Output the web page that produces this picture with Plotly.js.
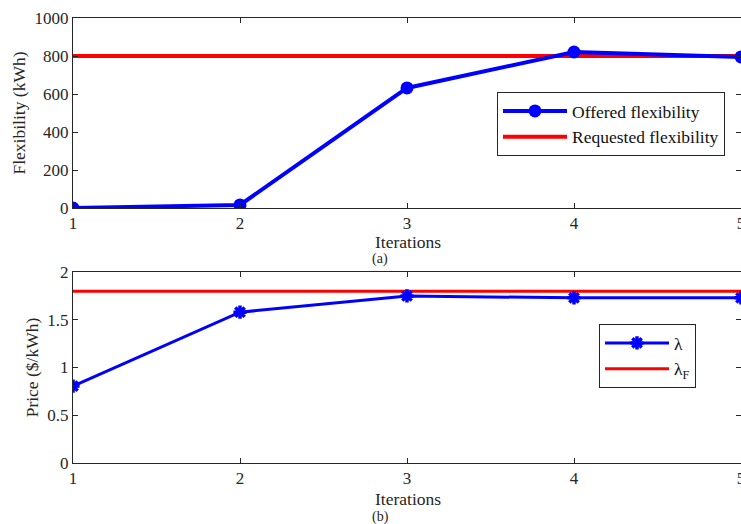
<!DOCTYPE html>
<html><head><meta charset="utf-8">
<script src="https://cdn.plot.ly/plotly-3.0.1.min.js"></script>
<style>html,body{margin:0;padding:0;overflow:hidden;background:#fff}</style>
</head><body>
<div id="chart" style="width:750px;height:524px"></div>
<script>
const iterations = [1, 2, 3, 4, 5];
const offeredFlex = [0, 16, 632, 821, 795];
const requestedFlex = [800, 800, 800, 800, 800];
const lambdaPrice = [0.806, 1.58, 1.75, 1.73, 1.73];
const lambdaF = [1.8, 1.8, 1.8, 1.8, 1.8];
const xTicks = [1, 2, 3, 4, 5];
const yTicksA = [0, 200, 400, 600, 800, 1000];
const yTicksB = [0, 0.5, 1, 1.5, 2];

const FONT = 'Liberation Serif, Times New Roman, serif';
const BLUE = '#0000ff', RED = '#ff0000';

const traces = [
  {x: iterations, y: requestedFlex, xaxis:'x', yaxis:'y', mode:'lines', name:'Requested flexibility',
   line:{color:RED, width:4}, legend:'legend', legendrank:2},
  {x: iterations, y: offeredFlex, xaxis:'x', yaxis:'y', mode:'lines+markers', name:'Offered flexibility',
   line:{color:BLUE, width:4}, marker:{symbol:'circle', size:13, color:BLUE}, legend:'legend', legendrank:1},
  {x: iterations, y: lambdaF, xaxis:'x2', yaxis:'y2', mode:'lines', name:'λ<sub>F</sub>',
   line:{color:RED, width:3}, legend:'legend2', legendrank:2},
  {x: iterations, y: lambdaPrice, xaxis:'x2', yaxis:'y2', mode:'lines+markers', name:'λ',
   line:{color:BLUE, width:3}, marker:{symbol:'asterisk-open', size:11, color:BLUE, line:{color:BLUE, width:3.5}},
   legend:'legend2', legendrank:1}
];

const axBase = {
  showline:true, linecolor:'#262626', linewidth:1, mirror:'ticks', ticks:'inside', ticklen:5,
  tickcolor:'#262626', showgrid:false, zeroline:false,
  tickfont:{family:FONT, size:17, color:'#262626'}
};

const layout = {
  width:750, height:524,
  margin:{l:73, r:9, t:18, b:61},
  paper_bgcolor:'#fff', plot_bgcolor:'#fff',
  font:{family:FONT, color:'#262626'},
  showlegend:true,
  xaxis: Object.assign({}, axBase, {domain:[0,1], range:[1,5], tickvals:xTicks, anchor:'y'}),
  yaxis: Object.assign({}, axBase, {domain:[0.573,1], range:[0,1000], tickvals:yTicksA, anchor:'x',
    title:{text:'Flexibility (kWh)', font:{family:FONT, size:17.5, color:'#262626'}, standoff:4}}),
  xaxis2: Object.assign({}, axBase, {domain:[0,1], range:[1,5], tickvals:xTicks, anchor:'y2'}),
  yaxis2: Object.assign({}, axBase, {domain:[0,0.429], range:[0,2], tickvals:yTicksB, anchor:'x2',
    title:{text:'Price ($/kWh)', font:{family:FONT, size:17.5, color:'#262626'}, standoff:4}}),
  legend:{xref:'paper', yref:'paper', xanchor:'left', yanchor:'top',
    bordercolor:'#262626', borderwidth:1, bgcolor:'#fff', itemwidth:64, tracegroupgap:0,
    font:{family:FONT, size:17.5, color:'#111'}},
  legend2:{xref:'paper', yref:'paper', xanchor:'left', yanchor:'top',
    bordercolor:'#262626', borderwidth:1, bgcolor:'#fff', itemwidth:64,
    font:{family:FONT, size:17.5, color:'#111'}},
  annotations:[]
};

const plotW = 750 - 73 - 9, plotH = 524 - 18 - 61;
function px(xp){ return (xp - 73) / plotW; }
function py(yp){ return (524 - 61 - yp) / plotH; }
layout.legend.x = px(497); layout.legend.y = py(92);
layout.legend2.x = px(599); layout.legend2.y = py(324);
function label(text, xp, yp, size){
  layout.annotations.push({text:text, xref:'paper', yref:'paper', x:px(xp), y:py(yp), yanchor:'middle',
    xanchor:'center', showarrow:false, font:{family:FONT, size:size, color:'#262626'}});
}
label('Iterations', 408, 242, 17.5);
label('(a)', 380, 259, 14);
label('Iterations', 408, 499, 17.5);
label('(b)', 380, 517, 14);

Plotly.newPlot('chart', traces, layout, {displayModeBar:false, staticPlot:true});
</script>
</body></html>
